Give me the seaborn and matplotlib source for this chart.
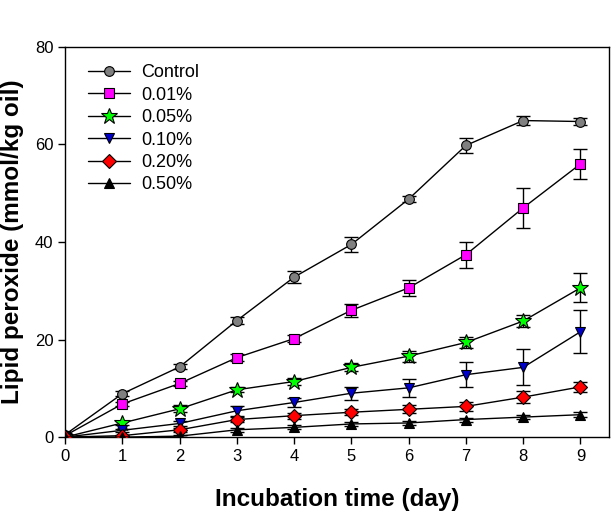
import matplotlib
matplotlib.use("Agg")
import matplotlib.pyplot as plt
import seaborn as sns
import numpy as np
import pandas as pd

days = [0, 1, 2, 3, 4, 5, 6, 7, 8, 9]
series_names = ["Control", "0.01%", "0.05%", "0.10%", "0.20%", "0.50%"]

control = [0.5, 8.9, 14.4, 23.9, 32.8, 39.5, 48.8, 59.8, 64.9, 64.7]
control_err = [0.3, 0.5, 0.5, 0.8, 1.3, 1.6, 0.6, 1.6, 0.9, 0.7]
p001 = [0.3, 6.8, 11.0, 16.3, 20.2, 26.0, 30.6, 37.4, 47.0, 56.0]
p001_err = [0.2, 0.4, 0.5, 0.7, 0.8, 1.3, 1.7, 2.7, 4.1, 3.0]
p005 = [0.0, 2.9, 5.8, 9.7, 11.4, 14.3, 16.6, 19.4, 23.8, 30.6]
p005_err = [0.2, 0.5, 0.7, 0.5, 0.7, 0.8, 1.1, 1.2, 1.3, 3.0]
p010 = [0.0, 1.4, 2.8, 5.4, 7.1, 9.0, 10.1, 12.8, 14.3, 21.6]
p010_err = [0.2, 0.3, 0.5, 1.0, 0.9, 1.3, 1.8, 2.6, 3.7, 4.4]
p020 = [0.0, 0.3, 1.5, 3.6, 4.4, 5.1, 5.7, 6.3, 8.2, 10.3]
p020_err = [0.1, 0.2, 0.4, 0.5, 0.6, 0.6, 0.8, 0.9, 1.2, 1.1]
p050 = [0.0, 0.0, 0.2, 1.5, 2.0, 2.7, 2.9, 3.6, 4.1, 4.6]
p050_err = [0.1, 0.1, 0.2, 0.4, 0.4, 0.4, 0.4, 0.4, 0.4, 0.5]

values = [control, p001, p005, p010, p020, p050]
errors = [control_err, p001_err, p005_err, p010_err, p020_err, p050_err]

colors = ["#808080", "#ff00ff", "#00ff00", "#0000cc", "#ff0000", "#000000"]
markers = ["o", "s", "*", "v", "D", "^"]
msizes = [7, 7, 12, 7, 7, 7]

rows = []
for name, vals, errs in zip(series_names, values, errors):
    for d, v, e in zip(days, vals, errs):
        rows.append({"day": d, "value": v, "err": e, "series": name})
df = pd.DataFrame(rows)

sns.set_style("ticks")
plt.rcParams["font.family"] = ["Liberation Sans", "DejaVu Sans"]
plt.rcParams["text.color"] = "black"
plt.rcParams["axes.labelcolor"] = "black"

fig = plt.figure(figsize=(6.14, 5.21), dpi=100)
ax = fig.add_axes([0.106, 0.161, 0.886, 0.749])

for i, name in enumerate(series_names):
    sub = df[df["series"] == name]
    ax.errorbar(sub["day"], sub["value"], yerr=sub["err"], fmt="none",
                ecolor="black", elinewidth=1.0, capsize=5, capthick=1.0, zorder=2)
    sns.lineplot(data=sub, x="day", y="value", ax=ax, color="black", linewidth=1.0,
                 marker=markers[i], markersize=msizes[i], markerfacecolor=colors[i],
                 markeredgecolor="black", markeredgewidth=0.8, label=name, zorder=3)

ax.set_xlim(0, 9.5)
ax.set_ylim(0, 80)
ax.set_xticks(days)
ax.set_yticks([0, 20, 40, 60, 80])
ax.tick_params(axis="both", labelsize=12, direction="out", length=5, width=1,
               colors="black", labelcolor="black")
for s in ax.spines.values():
    s.set_linewidth(1.0)
    s.set_color("black")
ax.set_xlabel("Incubation time (day)", fontsize=17.5, fontweight="bold", labelpad=17,
              color="black")
ax.set_ylabel("Lipid peroxide (mmol/kg oil)", fontsize=17.5, fontweight="bold", labelpad=8,
              color="black")

leg = ax.legend(loc="upper left", frameon=False, fontsize=13, handlelength=2.3,
                handletextpad=0.65, labelspacing=0.3, borderaxespad=0.0, borderpad=0.4,
                bbox_to_anchor=(0.029, 0.974))
for t in leg.get_texts():
    t.set_color("black")

fig.savefig("out.png", dpi=100)
